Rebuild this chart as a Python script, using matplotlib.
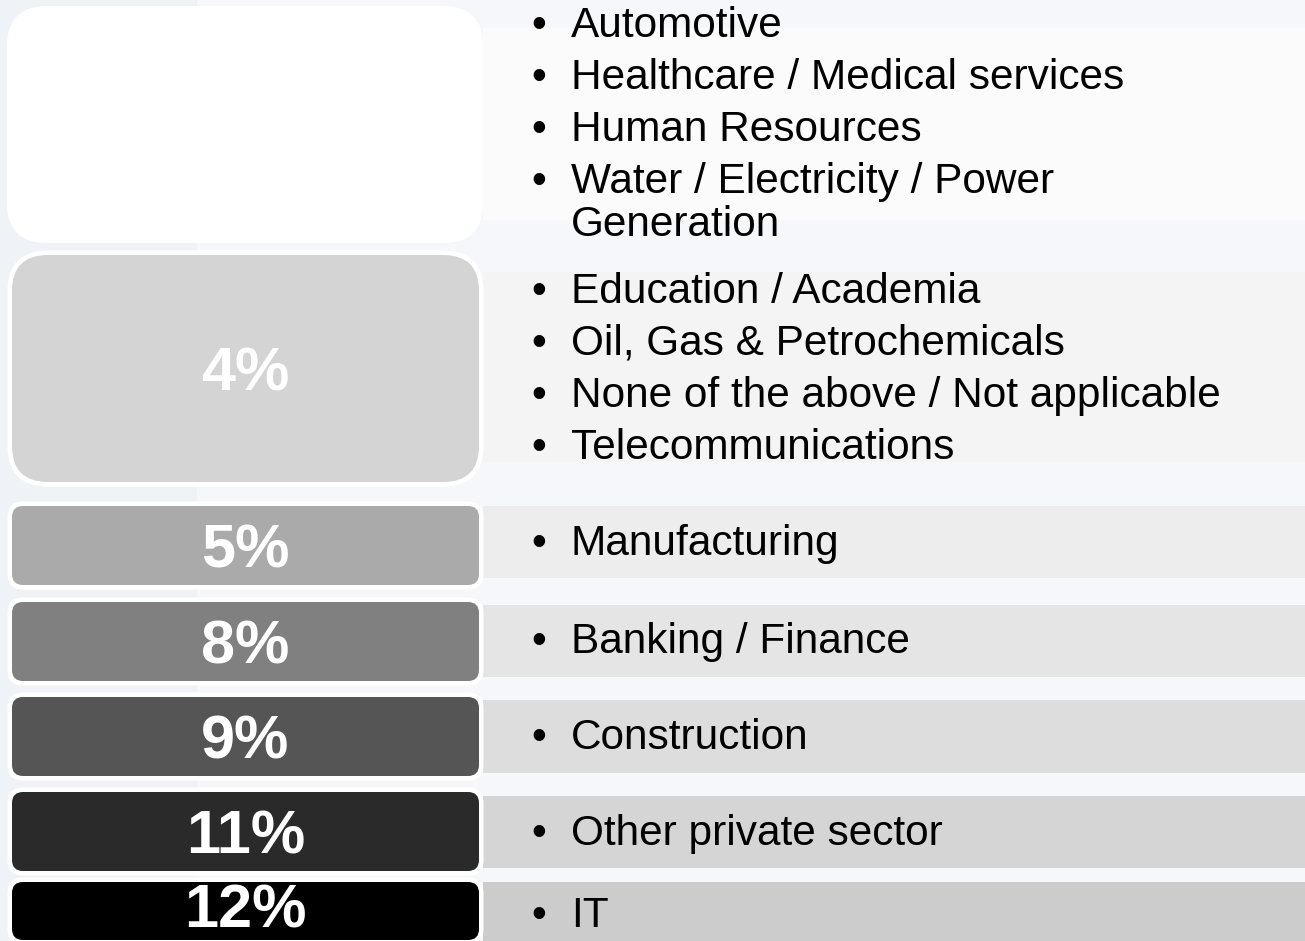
import matplotlib
matplotlib.use("Agg")
import matplotlib.pyplot as plt
from matplotlib.patches import FancyBboxPatch, Rectangle
import numpy as np

# ---- data ----
shares = [None, 4, 5, 8, 9, 11, 12]
groups = [
    ["Automotive", "Healthcare / Medical services", "Human Resources",
     "Water / Electricity / Power\nGeneration"],
    ["Education / Academia", "Oil, Gas & Petrochemicals",
     "None of the above / Not applicable", "Telecommunications"],
    ["Manufacturing"],
    ["Banking / Finance"],
    ["Construction"],
    ["Other private sector"],
    ["IT"],
]

# ---- layout (pixels) ----
W, H = 1305, 941
box_top = [6, 255, 506, 602, 697, 792, 882]
box_bot = [243, 482, 585, 681, 776, 871, 940]
box_rad = [40, 36, 11, 11, 11, 11, 11]
box_colors = ['#ffffff', '#d4d4d4', '#aaaaaa', '#808080', '#555555', '#2a2a2a', '#000000']
band_top = [28, 272, 506, 605, 700, 796, 882]
band_bot = [220, 462, 578, 677, 773, 868, 945]
band_colors = ['#fbfbfc', '#f4f4f4', '#ededed', '#e5e5e5', '#dddddd', '#d5d5d5', '#cccccc']
first_baseline = [37, 303, 555, 653, 749, 845, 927]
line_step = 52
wrap_step = 43
box_x0, box_x1 = 12, 479
border = 4.5
band_x0 = 483
bullet_x, text_x = 539, 571
font = 'Liberation Sans'

fig = plt.figure(figsize=(W / 100, H / 100), dpi=100)
ax = fig.add_axes([0, 0, 1, 1])
ax.set_xlim(0, W)
ax.set_ylim(H, 0)
ax.axis('off')

# background
ax.add_patch(Rectangle((0, 0), W, H, facecolor='#f5f7fa', edgecolor='none', zorder=0))
ax.add_patch(Rectangle((0, 0), 197, H, facecolor='#eff3f8', edgecolor='none', zorder=0))

# right bands
centers = [(t + b) / 2 for t, b in zip(band_top, band_bot)]
heights = [b - t for t, b in zip(band_top, band_bot)]
ax.barh(centers, W - band_x0, left=band_x0, height=heights,
        color=band_colors, edgecolor='none', zorder=1)

# left boxes
for i, (t, b, r, c) in enumerate(zip(box_top, box_bot, box_rad, box_colors)):
    if i == 0:
        ax.add_patch(FancyBboxPatch((box_x0 - 5, t), box_x1 - box_x0 + 9, b - t,
                                    boxstyle=f"round,pad=0,rounding_size={r}",
                                    facecolor='#ffffff', edgecolor='none', zorder=2))
        continue
    ax.add_patch(FancyBboxPatch((box_x0 - border, t - border),
                                box_x1 - box_x0 + 2 * border, b - t + 2 * border,
                                boxstyle=f"round,pad=0,rounding_size={r + border}",
                                facecolor='#ffffff', edgecolor='none', zorder=2))
    ax.add_patch(FancyBboxPatch((box_x0, t), box_x1 - box_x0, b - t,
                                boxstyle=f"round,pad=0,rounding_size={r}",
                                facecolor=c, edgecolor='none', zorder=3))

# percent labels
for s, t, b in zip(shares, box_top, box_bot):
    if s is None:
        continue
    yc = (t + b) / 2
    if yc + 22 + 13 > H:
        ax.text((box_x0 + box_x1) / 2, H - 1, f"{s}%", color='white',
                fontsize=44, fontweight='bold', family=font,
                ha='center', va='bottom', zorder=4)
    else:
        ax.text((box_x0 + box_x1) / 2, yc + 22, f"{s}%", color='white',
                fontsize=44, fontweight='bold', family=font,
                ha='center', va='baseline', zorder=4)

# bullet texts
for items, y0 in zip(groups, first_baseline):
    y = y0
    for item in items:
        lines = item.split('\n')
        ax.text(bullet_x, y, '•', fontsize=30.5, family=font, ha='center',
                va='baseline', color='black', zorder=4)
        for k, ln in enumerate(lines):
            ax.text(text_x, y, ln, fontsize=30.5, family=font, ha='left',
                    va='baseline', color='black', zorder=4)
            if k < len(lines) - 1:
                y += wrap_step
        y += line_step

fig.savefig('out.png', dpi=100)
